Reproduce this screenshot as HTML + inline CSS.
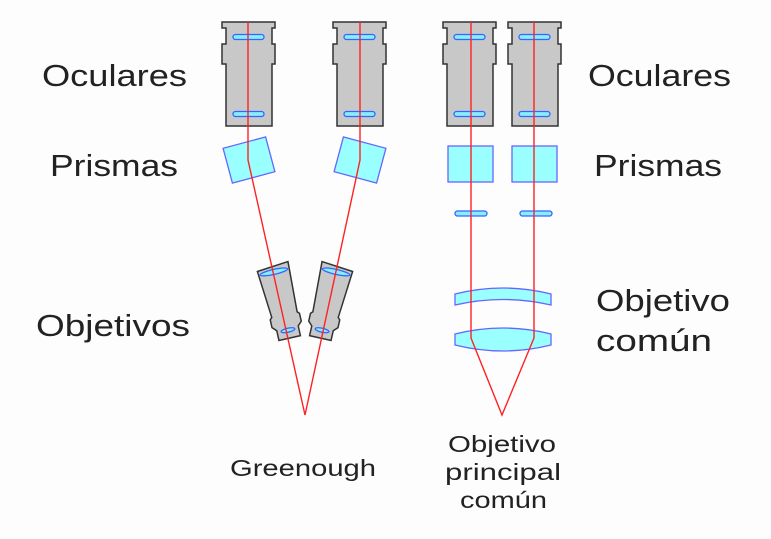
<!DOCTYPE html>
<html><head><meta charset="utf-8"><style>
html,body{margin:0;padding:0;background:#fdfdfd;}
svg{display:block;}
text{font-family:"Liberation Sans",sans-serif;fill:#222;}
</style></head><body>
<svg width="771" height="539" viewBox="0 0 771 539" xmlns="http://www.w3.org/2000/svg">
<defs>
<g id="eye">
<path d="M0,0 H53 V6 H50 V22 H53 V42 H50 V104 H4 V42 H0 V22 H4 V6 H0 Z" fill="#c8c8c8" stroke="#333" stroke-width="1.5"/>
<rect x="11" y="12.5" width="31" height="5" rx="2.5" fill="#8ef" stroke="#36f" stroke-width="1.3"/>
<rect x="11" y="89.5" width="31" height="5" rx="2.5" fill="#8ef" stroke="#36f" stroke-width="1.3"/>
</g>
<g id="obj">
<path d="M-16,0 L16,-3 L14,48 L16,50 L16,58 L12,62 L12,72 L-10,72 L-10,62 L-14,58 L-14,50 L-12,48 Z" fill="#c8c8c8" stroke="#333" stroke-width="1.5"/>
<ellipse cx="0" cy="4" rx="14" ry="2.5" fill="#8ef" stroke="#36f" stroke-width="1.3"/>
<ellipse cx="1" cy="64" rx="7" ry="2" fill="#8ef" stroke="#36f" stroke-width="1.3"/>
</g>
</defs>
<use href="#eye" x="222" y="22"/>
<use href="#eye" x="333" y="22"/>
<rect x="-22" y="-18" width="44" height="36" fill="#9ff" stroke="#66f" stroke-width="1.3" transform="translate(249,160) rotate(-15)"/>
<rect x="-22" y="-18" width="44" height="36" fill="#9ff" stroke="#66f" stroke-width="1.3" transform="translate(360,160) rotate(15)"/>
<use href="#obj" transform="translate(273,268) rotate(-12.6)"/>
<use href="#obj" transform="translate(337,268) rotate(12.6) scale(-1,1)"/>
<polyline points="248,22 248,160 305,415 360,160 360,22" fill="none" stroke="#f22" stroke-width="1.4"/>
<use href="#eye" x="443" y="22"/>
<use href="#eye" x="508" y="22"/>
<rect x="448" y="146" width="45" height="36" fill="#9ff" stroke="#66f" stroke-width="1.3"/>
<rect x="512" y="146" width="45" height="36" fill="#9ff" stroke="#66f" stroke-width="1.3"/>
<rect x="455" y="211" width="32" height="5" rx="2.5" fill="#8ef" stroke="#36f" stroke-width="1.3"/>
<rect x="520" y="211" width="32" height="5" rx="2.5" fill="#8ef" stroke="#36f" stroke-width="1.3"/>
<path d="M455,294 Q503,282 551,294 L551,305 Q503,294 455,305 Z" fill="#9ff" stroke="#66f" stroke-width="1.3"/>
<path d="M455,334 Q503,322 551,334 L551,345 Q503,357 455,345 Z" fill="#9ff" stroke="#66f" stroke-width="1.3"/>
<polyline points="471,22 471,338 502,415 534,338 534,22" fill="none" stroke="#f22" stroke-width="1.4"/>
<text x="42" y="86" font-size="31" textLength="145" lengthAdjust="spacingAndGlyphs">Oculares</text>
<text x="50" y="176" font-size="31" textLength="128" lengthAdjust="spacingAndGlyphs">Prismas</text>
<text x="36" y="336" font-size="31" textLength="154" lengthAdjust="spacingAndGlyphs">Objetivos</text>
<text x="588" y="86" font-size="31" textLength="143" lengthAdjust="spacingAndGlyphs">Oculares</text>
<text x="594" y="176" font-size="31" textLength="128" lengthAdjust="spacingAndGlyphs">Prismas</text>
<text x="596" y="311" font-size="31" textLength="134" lengthAdjust="spacingAndGlyphs">Objetivo</text>
<text x="596" y="351" font-size="31" textLength="116" lengthAdjust="spacingAndGlyphs">común</text>
<text x="230" y="476" font-size="23" textLength="146" lengthAdjust="spacingAndGlyphs">Greenough</text>
<text x="448" y="452" font-size="23" textLength="108" lengthAdjust="spacingAndGlyphs">Objetivo</text>
<text x="445" y="480" font-size="23" textLength="116" lengthAdjust="spacingAndGlyphs">principal</text>
<text x="460" y="508" font-size="23" textLength="87" lengthAdjust="spacingAndGlyphs">común</text>
</svg>
</body></html>
